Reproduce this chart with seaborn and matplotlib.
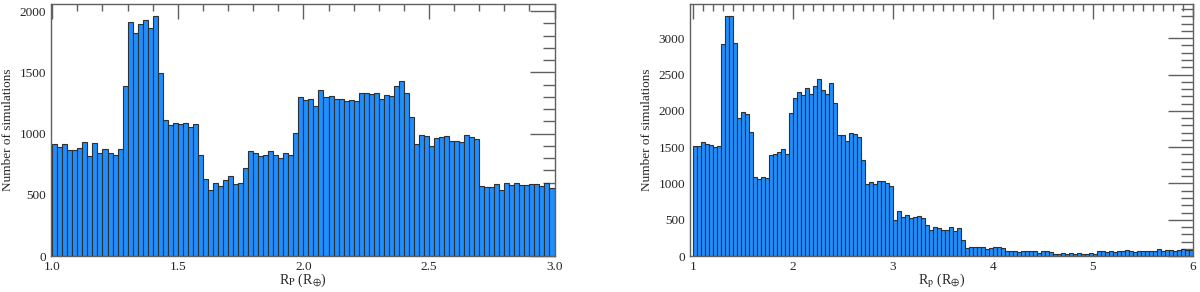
import matplotlib
matplotlib.use("Agg")
import matplotlib.pyplot as plt
import numpy as np
import pandas as pd
import seaborn as sns
from matplotlib.ticker import MultipleLocator

# left panel: 100 bins of 0.02 between 1.0 and 3.0
left_start, left_width = 1.0, 0.02
left_counts = [
    916, 891, 916, 864, 864, 880, 932, 820, 926, 845,
    872, 842, 828, 875, 1390, 1910, 1820, 1894, 1929, 1864,
    1959, 1496, 1114, 1074, 1090, 1076, 1087, 1055, 1082, 826,
    627, 537, 600, 575, 619, 654, 586, 597, 722, 861,
    839, 815, 828, 861, 828, 798, 845, 828, 1003, 1297,
    1278, 1286, 1229, 1352, 1297, 1308, 1281, 1286, 1264, 1278,
    1267, 1330, 1335, 1319, 1335, 1281, 1316, 1305, 1387, 1431,
    1330, 1136, 916, 986, 981, 899, 967, 976, 981, 940,
    940, 929, 986, 970, 956, 575, 564, 561, 586, 537,
    597, 583, 594, 580, 580, 589, 589, 570, 594, 553,
]

# right panel: 125 bins of 0.04 between 1 and 6
right_start, right_width = 1.0, 0.04
right_counts = [
    1513, 1509, 1573, 1550, 1523, 1504, 1513, 2916, 3307, 3307,
    2939, 1895, 1983, 1955, 1711, 1086, 1067, 1095, 1076, 1398,
    1403, 1431, 1481, 1412, 1964, 2171, 2254, 2213, 2318, 2236,
    2337, 2443, 2282, 2231, 2387, 2111, 1661, 1661, 1578, 1697,
    1679, 1638, 1320, 989, 1026, 994, 1035, 1035, 1012, 971,
    501, 621, 534, 561, 524, 534, 552, 520, 423, 359,
    396, 382, 359, 359, 400, 350, 391, 216, 110, 120,
    124, 129, 129, 101, 115, 120, 120, 110, 74, 74,
    74, 51, 64, 74, 74, 64, 46, 64, 74, 55,
    32, 32, 37, 32, 41, 32, 37, 32, 23, 46,
    30, 74, 64, 60, 64, 60, 64, 74, 78, 64,
    55, 64, 64, 69, 69, 69, 92, 64, 78, 78,
    74, 87, 92, 87, 83,
]

sns.set_style("white")
plt.rcParams["font.family"] = ["Liberation Serif", "DejaVu Serif"]
plt.rcParams["mathtext.fontset"] = "stix"
plt.rcParams["font.size"] = 9

fig = plt.figure(figsize=(12, 2.92), dpi=100)
ax1 = fig.add_axes([0.0425, 0.123, 0.4196, 0.863])
ax2 = fig.add_axes([0.575, 0.123, 0.4192, 0.863])

panels = [
    (ax1, left_start, left_width, left_counts, (0.995, 3.0), 2057, 0.5, 0.1,
     r"R$_{\mathrm{P}}$ (R$_{\oplus}$)"),
    (ax2, right_start, right_width, right_counts, (0.973, 6.0), 3470, 1.0, 0.1,
     r"R$_{\mathrm{p}}$ (R$_{\oplus}$)"),
]

for ax, start, width, counts, xlim, ytop, xmaj, xmin, xlabel in panels:
    n = len(counts)
    df = pd.DataFrame({"rp": start + width * (np.arange(n) + 0.5), "n": counts})
    sns.histplot(
        data=df, x="rp", weights="n", binwidth=width,
        binrange=(start, start + n * width), ax=ax,
        color="#1e8fff", edgecolor="#303030", linewidth=0.8, alpha=1.0,
    )
    ax.set_xlim(*xlim)
    ax.set_ylim(0, ytop)
    ax.xaxis.set_major_locator(MultipleLocator(xmaj))
    ax.xaxis.set_minor_locator(MultipleLocator(xmin))
    ax.yaxis.set_major_locator(MultipleLocator(500))
    ax.yaxis.set_minor_locator(MultipleLocator(100))
    ax.tick_params(which="both", direction="in", top=True, right=True,
                   color="#606060", width=1.0, labelsize=9.5)
    ax.tick_params(axis="x", which="major", length=11)
    ax.tick_params(axis="x", which="minor", length=5)
    ax.tick_params(axis="y", which="major", length=18)
    ax.tick_params(axis="y", which="minor", length=9)
    for sp in ax.spines.values():
        sp.set_color("#606060")
        sp.set_linewidth(1.0)
    ax.set_ylabel("Number of simulations", fontsize=9.5)
    ax.set_xlabel(xlabel, fontsize=10, labelpad=-1)

fig.savefig("out.png", dpi=100)
